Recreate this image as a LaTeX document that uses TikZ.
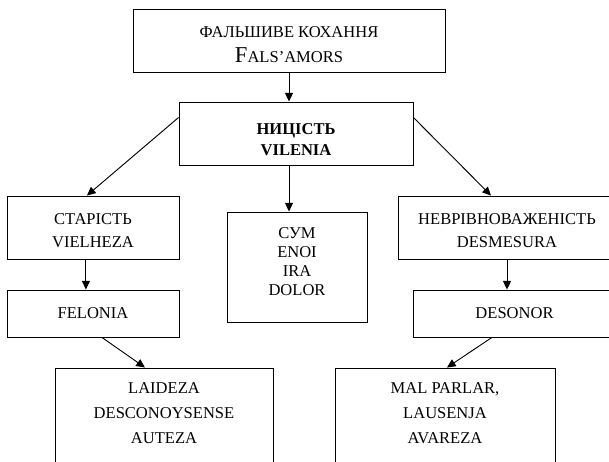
\documentclass[tikz,border=0pt]{standalone}
\usepackage{fontspec}
\setmainfont{Liberation Serif}
\usetikzlibrary{arrows.meta,calc}
\begin{document}
\begin{tikzpicture}[x=0.75pt,y=-0.75pt,
  box/.style={draw,line width=0.7pt,inner sep=0pt,align=center},
  conn/.style={line width=0.7pt,-{Triangle[length=6.5pt,width=6pt]}},
  tx/.style={inner sep=0pt,align=center}]
\useasboundingbox (0,0) rectangle (609,461);
\clip (0,0) rectangle (609,461);
% boxes
\node[box,minimum width=234pt,minimum height=47.25pt] (top) at (289,40.5) {};
\node[tx,font=\fontsize{12.4}{18.75}\selectfont] (toptxt) at (289,44.5)
  {ФАЛЬШИВЕ КОХАННЯ\\{\fontsize{17}{18.75}\selectfont F}ALS’AMORS};
\node[box,minimum width=175.5pt,minimum height=47.25pt] (vil) at (296,133.5) {};
\node[tx,font=\fontsize{12.4}{15.75}\selectfont\bfseries] (viltxt) at (296,139.5)
  {НИЦІСТЬ\\VILENIA};
\node[box,minimum width=129pt,minimum height=47.25pt] (star) at (93,227.5) {};
\node[tx,font=\fontsize{12.4}{17.25}\selectfont] (startxt) at (93,230.5)
  {СТАРІСТЬ\\VIELHEZA};
\node[box,minimum width=129pt,minimum height=35.25pt,font=\fontsize{12.4}{17.25}\selectfont] (fel) at (93,313.5)
  {FELONIA};
\node[box,minimum width=105pt,minimum height=82.5pt] (cym) at (297,267) {};
\node[tx,font=\fontsize{12.4}{14.25}\selectfont] (cymtxt) at (297,261.5)
  {СУМ\\ENOI\\IRA\\DOLOR};
\node[box,minimum width=163.5pt,minimum height=47.25pt] (nev) at (507,227.5) {};
\node[tx,font=\fontsize{12.4}{17.25}\selectfont] (nevtxt) at (507,230.5)
  {НЕВРІВНОВАЖЕНІСТЬ\\DESMESURA};
\node[box,minimum width=152.25pt,minimum height=35.25pt,font=\fontsize{12.4}{17.25}\selectfont] (des) at (514.5,313.5)
  {DESONOR};
\node[box,minimum width=163.5pt,minimum height=91.5pt] (lai) at (164,429) {};
\node[tx,font=\fontsize{12.4}{18.75}\selectfont] (laitxt) at (164,413)
  {LAIDEZA\\DESCONOYSENSE\\AUTEZA};
\node[box,minimum width=165pt,minimum height=91.5pt] (mal) at (445,429) {};
\node[tx,font=\fontsize{12.4}{18.75}\selectfont] (maltxt) at (445,413)
  {MAL PARLAR,\\LAUSENJA\\AVAREZA};
% connectors
\draw[conn] (top.south) -- (top.south |- vil.north);
\draw[conn] ($(vil.north west)!0.25!(vil.south west)$) -- ($(star.north west)!0.465!(star.north east)$);
\draw[conn] (top.south |- vil.south) -- (top.south |- cym.north);
\draw[conn] ($(vil.north east)!0.25!(vil.south east)$) -- ($(nev.north west)!0.427!(nev.north east)$);
\draw[conn] ($(star.south west)!0.459!(star.south east)$) -- ($(fel.north west)!0.459!(fel.north east)$);
\draw[conn] ($(fel.south west)!0.552!(fel.south east)$) -- ($(lai.north west)!0.413!(lai.north east)$);
\draw[conn] (nev.south) -- (nev.south |- des.north);
\draw[conn] ($(des.south west)!0.389!(des.south east)$) -- ($(mal.north west)!0.509!(mal.north east)$);
\end{tikzpicture}
\end{document}
